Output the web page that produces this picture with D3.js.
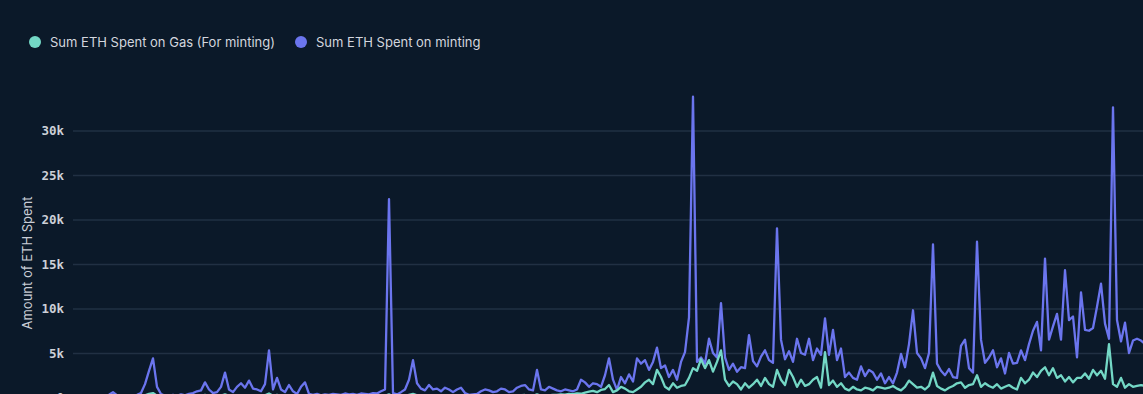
<!DOCTYPE html>
<html>
<head>
<meta charset="utf-8">
<script src="https://cdn.jsdelivr.net/npm/d3@7"></script>
<style>
  html, body { margin: 0; padding: 0; background: #0b1929; overflow: hidden; }
  svg { display: block; }
  .grid line { stroke: #213043; stroke-width: 1.3; }
  .grid .domain { display: none; }
  .grid text { fill: #ccd0d8; font-family: "DejaVu Sans Mono", monospace; font-weight: bold; font-size: 12.5px; }
  .legend text { fill: #d3d6de; font-family: Inter, "Noto Sans", sans-serif; font-size: 13px; }
</style>
</head>
<body>
<div id="chart"></div>
<script>
// series names, legend order
var series_names = ["Sum ETH Spent on Gas (For minting)", "Sum ETH Spent on minting"];
var series_colors = ["#74d8c6", "#6b75ee"];

// daily values, one per day (ETH)
var minting = [
  100, 50, 80, 120, 60, 90, 150, 100, 200, 300,
  600, 250, 150, 200, 100, 250, 300, 500, 1500, 3000,
  4400, 1200, 400, 200, 150, 300, 200, 350, 250, 400,
  500, 700, 800, 1700, 900, 500, 600, 1200, 2800, 900,
  600, 1200, 1600, 1100, 1900, 1000, 900, 700, 1500, 5300,
  900, 2200, 900, 600, 1400, 700, 400, 1200, 1700, 400,
  300, 400, 250, 350, 300, 400, 350, 300, 450, 350,
  400, 300, 450, 400, 350, 500, 450, 700, 900, 22300,
  500, 350, 600, 900, 2000, 4200, 1600, 1000, 800, 1400,
  900, 1000, 700, 1100, 900, 600, 900, 1100, 500, 300,
  350, 400, 700, 900, 800, 600, 700, 1000, 900, 600,
  700, 1100, 1300, 1400, 900, 800, 3100, 900, 800, 1200,
  1000, 800, 700, 900, 800, 700, 900, 2000, 1700, 1200,
  1600, 1500, 1200, 2500, 4400, 2000, 850, 2300, 1600, 2600,
  1800, 4400, 3800, 4200, 3100, 4000, 5600, 3300, 3600, 2300,
  3100, 2000, 4000, 5100, 9000, 33800, 4000, 4500, 3800, 6600,
  5000, 4500, 10600, 4500, 3100, 3800, 2900, 3400, 3300, 7000,
  4100, 3500, 4600, 5300, 4200, 3900, 19000, 6500, 4300, 5200,
  4000, 6600, 5000, 4800, 6600, 4200, 5500, 4800, 8900, 4800,
  7600, 4200, 5500, 2300, 2800, 2200, 2000, 3500, 2400, 3100,
  2800, 2000, 2700, 1600, 2300, 1600, 2800, 4900, 3400, 6000,
  9800, 5000, 4400, 3300, 5000, 17200, 3800, 3000, 2500, 3200,
  2300, 2200, 5800, 6500, 3300, 2800, 17500, 6500, 3900, 4500,
  5300, 3400, 4400, 2700, 5000, 3800, 3900, 5300, 4200, 6000,
  7500, 8500, 5300, 15600, 6500, 8000, 9400, 6500, 14300, 8700,
  9100, 4500, 11800, 7600, 7500, 7800, 10200, 12800, 8300, 6600,
  32600, 8700, 6300, 8400, 5000, 6400, 6600, 6400, 6000
];

var gas = [
  40, 30, 50, 60, 40, 50, 70, 60, 80, 100,
  120, 90, 80, 90, 70, 100, 110, 150, 250, 400,
  500, 200, 120, 90, 80, 100, 90, 110, 100, 130,
  150, 180, 200, 300, 200, 150, 160, 220, 350, 200,
  160, 220, 260, 200, 280, 200, 180, 160, 250, 450,
  200, 300, 180, 150, 220, 160, 120, 200, 250, 120,
  100, 120, 90, 110, 100, 120, 110, 100, 130, 110,
  120, 100, 130, 120, 110, 140, 130, 170, 200, 350,
  150, 110, 160, 200, 300, 400, 250, 180, 160, 220,
  180, 190, 160, 200, 180, 150, 180, 200, 140, 110,
  120, 130, 170, 200, 190, 160, 170, 220, 200, 160,
  170, 230, 260, 280, 200, 190, 350, 200, 190, 250,
  300, 280, 350, 320, 400, 380, 450, 420, 550, 650,
  750, 600, 850, 950, 1400, 600, 800, 1200, 1000, 700,
  600, 900, 1200, 1700, 2000, 1500, 3100, 2300, 1200, 900,
  1600, 1100, 1300, 1400, 2200, 3300, 3000, 4300, 3300, 4200,
  2900, 4000, 5300, 2000, 1300, 1800, 1500, 900, 1600, 1100,
  1500, 2000, 1300, 2200, 1500, 1200, 3100, 2000, 1400, 3100,
  2300, 1200, 2000, 1300, 1500, 2000, 2300, 1100, 5100, 1400,
  1900, 1200, 1600, 1000, 800, 1200, 900, 800, 1100, 1000,
  800, 1200, 1100, 1000, 1100, 1300, 1000, 800, 1200, 1900,
  1500, 1100, 1200, 900, 1300, 2800, 1300, 1000, 800, 1100,
  1300, 1600, 1700, 1100, 1400, 1500, 2500, 1200, 1600, 1300,
  1100, 1500, 1000, 1200, 1400, 1100, 900, 2200, 1600, 2000,
  2800, 2300, 3000, 3400, 2500, 3300, 2200, 2500, 1800, 2300,
  1700, 2200, 2200, 2700, 2100, 3100, 2500, 3000, 2100, 6000,
  1500, 1200, 2200, 1100, 1500, 1200, 1300, 1400, 1300
];

var y_ticks = [0, 5000, 10000, 15000, 20000, 25000, 30000];
var y_title = "Amount of ETH Spent";

function make_chart(){
  var width = 1143, height = 394;
  var left = 73, day_px = 4;

  var svg = d3.select("#chart").append("svg")
    .attr("width", width)
    .attr("height", height);

  var xScale = d3.scaleLinear()
    .domain([0, minting.length - 1])
    .range([left, left + day_px * (minting.length - 1)]);

  var yScale = d3.scaleLinear()
    .domain([0, 35000])
    .range([397.5, 86]);

  // grid + tick labels
  svg.append("g")
    .attr("class", "grid")
    .attr("transform", "translate(" + left + ",0)")
    .call(d3.axisLeft(yScale)
      .tickValues(y_ticks)
      .tickSize(-(width - left))
      .tickPadding(9)
      .tickFormat(d3.format("~s")));

  // y title
  svg.append("text")
    .attr("transform", "translate(32,263) rotate(-90)")
    .attr("text-anchor", "middle")
    .attr("fill", "#c9cdd6")
    .style("font-family", "Inter, 'Noto Sans', sans-serif")
    .style("font-size", "13px")
    .text(y_title);

  var line = d3.line()
    .x(function(d, i){ return xScale(i); })
    .y(function(d){ return yScale(d); });

  // minting first, gas on top
  [minting, gas].forEach(function(data, k){
    svg.append("path")
      .datum(data)
      .attr("fill", "none")
      .attr("stroke", k == 0 ? series_colors[1] : series_colors[0])
      .attr("stroke-width", 2.3)
      .attr("stroke-linejoin", "round")
      .attr("d", line);
  });

  // legend
  var legend = svg.append("g").attr("class", "legend");
  var lx = [35, 301];
  series_names.forEach(function(name, k){
    legend.append("circle")
      .attr("cx", lx[k])
      .attr("cy", 42)
      .attr("r", 6)
      .attr("fill", series_colors[k]);
    legend.append("text")
      .attr("x", lx[k] + 15)
      .attr("y", 46.5)
      .text(name);
  });
}
make_chart();
</script>
</body>
</html>
